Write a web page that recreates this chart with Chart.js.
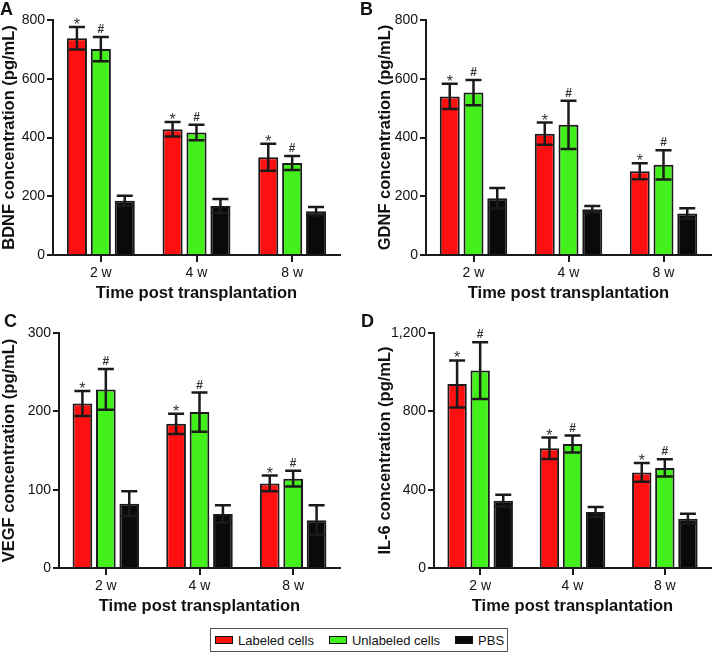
<!DOCTYPE html>
<html>
<head>
<meta charset="utf-8">
<script src="https://cdn.jsdelivr.net/npm/chart.js@4/dist/chart.umd.min.js"></script>
<style>
  body { margin: 0; background: #fff; }
  #wrap { position: relative; width: 716px; height: 653px; overflow: hidden; font-family: "Liberation Sans", Arial, sans-serif; }
  canvas { position: absolute; }
  .letter { position: absolute; font-weight: bold; font-size: 18px; color: #111; line-height: 1; }
  #legend { position: absolute; left: 210px; top: 628px; width: 298px; height: 24px; box-sizing: border-box;
            border: 1px solid #555; display: flex; align-items: center; font-size: 13px; color: #111; white-space: nowrap; }
  .sw { display: inline-block; width: 16px; height: 6px; border: 1px solid #111; margin-right: 5px; flex-shrink: 0; }
  .item { display: flex; align-items: center; flex-shrink: 0; }
</style>
</head>
<body>
<div id="wrap">
  <canvas id="chartA" width="358" height="303" style="left:0;top:0"></canvas>
  <canvas id="chartB" width="358" height="303" style="left:358px;top:0"></canvas>
  <canvas id="chartC" width="358" height="316" style="left:0;top:300px"></canvas>
  <canvas id="chartD" width="358" height="316" style="left:358px;top:300px"></canvas>
  <div class="letter" style="left:0;top:0">A</div>
  <div class="letter" style="left:360px;top:0">B</div>
  <div class="letter" style="left:4px;top:312px">C</div>
  <div class="letter" style="left:361px;top:312px">D</div>
  <div id="legend">
    <span class="item" style="margin-left:4px"><span class="sw" style="background:#ff1010"></span>Labeled cells</span>
    <span class="item" style="margin-left:15px"><span class="sw" style="background:#44f01c"></span>Unlabeled cells</span>
    <span class="item" style="margin-left:15px"><span class="sw" style="background:#0a0a0a"></span>PBS</span>
  </div>
</div>
<script>
// categorias / datos
const categories = ['2 w', '4 w', '8 w'];
const seriesNames = ['Labeled cells', 'Unlabeled cells', 'PBS'];
const seriesColors = ['#ff1010', '#44f01c', '#0a0a0a'];
const seriesMarks = ['*', '#', ''];

// A - BDNF
const bdnfLabeled = [738, 428, 333];
const bdnfLabeledErr = [38, 25, 46];
const bdnfUnlabeled = [701, 417, 313];
const bdnfUnlabeledErr = [41, 26, 24];
const bdnfPbs = [185, 167, 149];
const bdnfPbsErr = [17, 24, 14];

// B - GDNF
const gdnfLabeled = [540, 413, 285];
const gdnfLabeledErr = [43, 38, 27];
const gdnfUnlabeled = [553, 443, 307];
const gdnfUnlabeledErr = [43, 82, 50];
const gdnfPbs = [193, 156, 141];
const gdnfPbsErr = [35, 11, 18];

// C - VEGF
const vegfLabeled = [210, 184, 108];
const vegfLabeledErr = [16, 13, 10];
const vegfUnlabeled = [228, 199, 114];
const vegfUnlabeledErr = [26, 25, 10];
const vegfPbs = [82, 69, 61];
const vegfPbsErr = [16, 11, 19];

// D - IL-6
const il6Labeled = [940, 611, 488];
const il6LabeledErr = [120, 55, 48];
const il6Unlabeled = [1008, 633, 511];
const il6UnlabeledErr = [145, 43, 44];
const il6Pbs = [344, 286, 252];
const il6PbsErr = [30, 25, 25];

// ticks eje y
const ticksAB = [0, 200, 400, 600, 800];
const ticksC = [0, 100, 200, 300];
const ticksD = [0, 400, 800, 1200];

Chart.defaults.font.family = '"Liberation Sans", Arial, sans-serif';
Chart.defaults.color = '#111';

// plugin: barras de error + marcas (* / #)
const errorBarPlugin = {
    id: 'errorBars',
    afterDatasetsDraw(chart) {
        const ctx = chart.ctx;
        const yScale = chart.scales.y;
        chart.data.datasets.forEach((ds, i) => {
            const meta = chart.getDatasetMeta(i);
            meta.data.forEach((bar, j) => {
                const v = ds.data[j];
                const e = ds.errors[j];
                const yTop = yScale.getPixelForValue(v + e);
                const yBot = yScale.getPixelForValue(v - e);
                const half = 8;
                ctx.save();
                ctx.strokeStyle = '#1a1a1a';
                ctx.lineWidth = 2.5;
                ctx.beginPath();
                ctx.moveTo(bar.x, yTop); ctx.lineTo(bar.x, yBot);
                ctx.moveTo(bar.x - half, yTop); ctx.lineTo(bar.x + half, yTop);
                ctx.moveTo(bar.x - half, yBot); ctx.lineTo(bar.x + half, yBot);
                ctx.stroke();
                if (ds.mark) {
                    ctx.fillStyle = '#333';
                    ctx.font = ds.mark === '*' ? '16px "Liberation Sans", Arial' : 'bold 12px "Liberation Sans", Arial';
                    ctx.textAlign = 'center';
                    ctx.textBaseline = 'alphabetic';
                    ctx.fillText(ds.mark, bar.x, yTop - (ds.mark === '*' ? -3 : 4));
                }
                ctx.restore();
            });
        });
    }
};

function buildChart(id, values, errors, yTicks, yTitle, opt) {
    const ctx = document.getElementById(id).getContext('2d');
    return new Chart(ctx, {
        type: 'bar',
        data: {
            labels: categories,
            datasets: values.map((vals, i) => ({
                label: seriesNames[i],
                data: vals,
                errors: errors[i],
                mark: seriesMarks[i],
                backgroundColor: seriesColors[i],
                borderColor: '#1a1a1a',
                borderWidth: 2,
                categoryPercentage: 0.75,
                barPercentage: 0.84
            }))
        },
        options: {
            responsive: false,
            animation: false,
            devicePixelRatio: 1,
            layout: { padding: { top: opt.top, right: opt.right, left: 0, bottom: 0 } },
            plugins: { legend: { display: false }, tooltip: { enabled: false } },
            scales: {
                x: {
                    afterFit: (scale) => { scale.height = 48; },
                    grid: { drawOnChartArea: false, offset: false, tickLength: 7, lineWidth: 2, color: '#1a1a1a' },
                    border: { width: 2, color: '#1a1a1a' },
                    ticks: { font: { size: 14 }, padding: 3, color: '#111' },
                    title: { display: true, text: 'Time post transplantation', font: { size: 16.5, weight: 'bold', lineHeight: 1.2 }, padding: 0, color: '#111' }
                },
                y: {
                    min: yTicks[0],
                    max: yTicks[yTicks.length - 1],
                    afterFit: (scale) => { scale.width = opt.axisW; },
                    afterBuildTicks: (scale) => { scale.ticks = yTicks.map(v => ({ value: v })); },
                    grid: { drawOnChartArea: false, tickLength: 6, lineWidth: 2, color: '#1a1a1a' },
                    border: { width: 2, color: '#1a1a1a' },
                    ticks: { font: { size: 14 }, padding: 2, color: '#111', callback: (v) => v.toLocaleString('en-US') },
                    title: { display: true, text: yTitle, font: { size: 16.5, weight: 'bold', lineHeight: 1.2 }, padding: { top: opt.titlePad, bottom: 0 }, color: '#111' }
                }
            }
        },
        plugins: [errorBarPlugin]
    });
}

document.addEventListener('DOMContentLoaded', () => {
    buildChart('chartA',
        [bdnfLabeled, bdnfUnlabeled, bdnfPbs],
        [bdnfLabeledErr, bdnfUnlabeledErr, bdnfPbsErr],
        ticksAB, 'BDNF concentration (pg/mL)',
        { top: 20, right: 18, axisW: 53, titlePad: 0 });

    buildChart('chartB',
        [gdnfLabeled, gdnfUnlabeled, gdnfPbs],
        [gdnfLabeledErr, gdnfUnlabeledErr, gdnfPbsErr],
        ticksAB, 'GDNF concentration (pg/mL)',
        { top: 20, right: 5, axisW: 68, titlePad: 18 });

    buildChart('chartC',
        [vegfLabeled, vegfUnlabeled, vegfPbs],
        [vegfLabeledErr, vegfUnlabeledErr, vegfPbsErr],
        ticksC, 'VEGF concentration (pg/mL)',
        { top: 33, right: 18, axisW: 59, titlePad: 0 });

    buildChart('chartD',
        [il6Labeled, il6Unlabeled, il6Pbs],
        [il6LabeledErr, il6UnlabeledErr, il6PbsErr],
        ticksD, 'IL-6 concentration (pg/mL)',
        { top: 33, right: 5, axisW: 76, titlePad: 18 });
});
</script>
</body>
</html>
